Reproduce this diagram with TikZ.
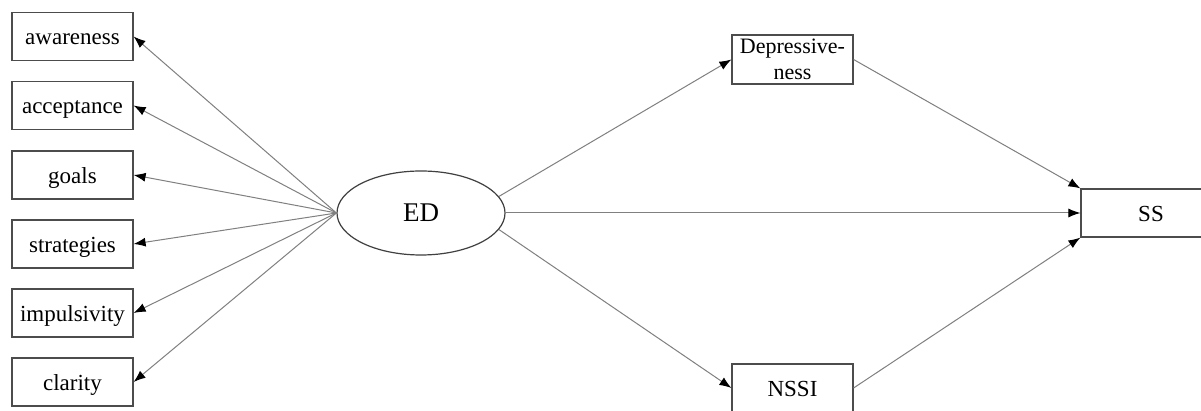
\documentclass[tikz,border=0pt]{standalone}
\usepackage{fontspec}
\setmainfont{Liberation Serif}
\usetikzlibrary{arrows.meta,shapes.geometric}
\begin{document}
\begin{tikzpicture}[x=1pt,y=1pt,
  boxbase/.style={draw=black!70,line width=1.2pt,fill=white,minimum width=121pt,minimum height=48pt,inner sep=0pt},
  box/.style={boxbase,font=\fontsize{23}{26}\selectfont,text height=19pt,text depth=2pt},
  conn/.style={draw=black!50,line width=1pt,-{Latex[length=12pt,width=9pt,black]}}
]
\useasboundingbox (0,0) rectangle (1201,411);
\clip (0,0) rectangle (1201,411);
\fill[white] (0,0) rectangle (1201,411);
\node[box] (aw) at (72.5,374.5) {awareness};
\node[box] (ac) at (72.5,305.5) {acceptance};
\node[box] (go) at (72.5,236) {goals};
\node[box] (st) at (72.5,167) {strategies};
\node[box] (im) at (72.5,98) {impulsivity};
\node[box] (cl) at (72.5,29) {clarity};
\node[draw=black!75,line width=1.2pt,ellipse,minimum width=168pt,minimum height=84pt,inner sep=0pt,font=\fontsize{27}{30}\selectfont] (ED) at (421,198) {ED};
\node[boxbase,minimum height=49pt,align=center,font=\fontsize{22}{25.5}\selectfont] (dep) at (792.5,351.5) {Depressive-\\ness};
\node[box] (nssi) at (792.5,23) {NSSI};
\node[box,minimum width=140pt] (ss) at (1151,198) {SS};
\foreach \t in {aw,ac,go,st,im,cl}
  \draw[conn] (ED.west) -- (\t.east);
\draw[conn] (ED.12) -- (dep.west);
\draw[conn] (ED.-12) -- (nssi.west);
\draw[conn] (ED.east) -- (ss.west);
\draw[conn] (dep.east) -- (ss.north west);
\draw[conn] (nssi.east) -- (ss.south west);
\end{tikzpicture}
\end{document}
